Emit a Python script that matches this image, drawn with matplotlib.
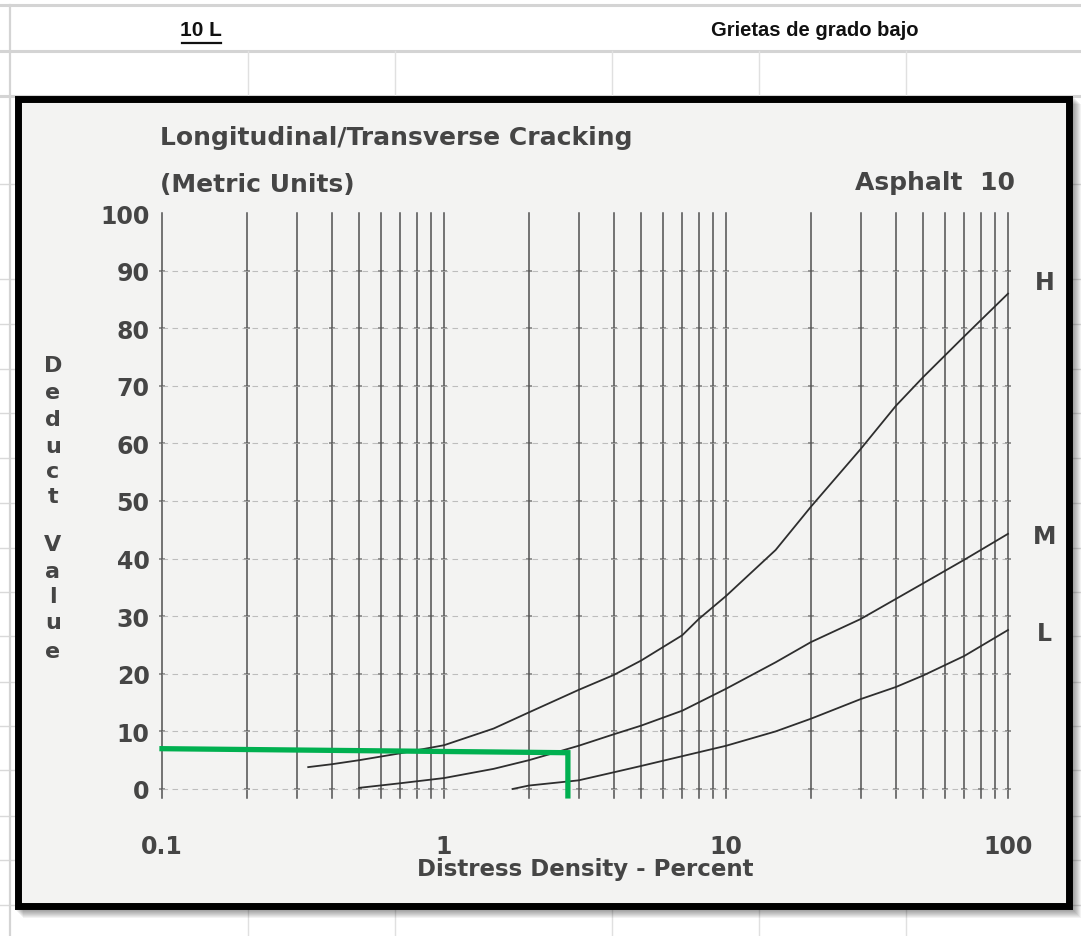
import matplotlib.pyplot as plt
from matplotlib.patches import Rectangle

# Deduct value curves (distress density %, deduct value)
h_density = [0.33, 0.4, 0.5, 0.7, 1, 1.5, 2, 3, 4, 5, 7, 8, 10, 15, 20, 30, 40, 50, 70, 100]
h_deduct = [3.8, 4.3, 5.0, 6.2, 7.6, 10.5, 13.3, 17.2, 19.8, 22.3, 26.7, 29.5, 33.5, 41.5, 49.0, 59.0, 66.5, 71.5, 78.6, 86.0]

m_density = [0.5, 0.7, 1, 1.5, 2, 3, 4, 5, 7, 10, 15, 20, 30, 50, 70, 100]
m_deduct = [0.2, 1.0, 1.9, 3.5, 5.0, 7.5, 9.5, 11.0, 13.6, 17.4, 22.0, 25.5, 29.5, 35.7, 39.8, 44.3]

l_density = [1.75, 2, 3, 4, 5, 7, 10, 15, 20, 30, 40, 50, 70, 100]
l_deduct = [0.0, 0.6, 1.5, 2.9, 4.0, 5.7, 7.5, 10.0, 12.2, 15.6, 17.7, 19.7, 23.1, 27.6]

curve_names = ['H', 'M', 'L']
curve_label_deduct = [88.0, 44.0, 27.0]

# reading line for the low-severity case
green_density = [0.1, 2.75, 2.75]
green_deduct = [7.0, 6.3, -1.2]

grid_density = [0.1, 0.2, 0.3, 0.4, 0.5, 0.6, 0.7, 0.8, 0.9, 1,
                2, 3, 4, 5, 6, 7, 8, 9, 10,
                20, 30, 40, 50, 60, 70, 80, 90, 100]
grid_deduct = [0, 10, 20, 30, 40, 50, 60, 70, 80, 90]

x_ticks = [0.1, 1, 10, 100]
x_tick_labels = ['0.1', '1', '10', '100']
y_ticks = [0, 10, 20, 30, 40, 50, 60, 70, 80, 90, 100]

W, H = 1081, 937
fig = plt.figure(figsize=(W / 100, H / 100), dpi=100)
fig.patch.set_facecolor('white')

# spreadsheet backdrop in pixel coordinates
bg = fig.add_axes([0, 0, 1, 1], zorder=0)
bg.set_xlim(0, W)
bg.set_ylim(H, 0)
bg.axis('off')

sheet_rows = [185, 280, 325, 370, 414, 459, 504, 549, 593, 637, 683, 727, 771, 817, 861, 906]
for y in sheet_rows:
    bg.plot([0, W], [y, y], color='#d9d9d9', lw=1.0, zorder=1)
for y in [6, 52, 97]:
    bg.plot([0, W], [y, y], color='#d4d4d4', lw=2.2, zorder=1)
bg.plot([10, 10], [6, H], color='#d4d4d4', lw=1.6, zorder=1)
for x in [248, 395, 612, 759, 906]:
    bg.plot([x, x], [52, 97], color='#e0e0e0', lw=1.0, zorder=1)
    bg.plot([x, x], [906, H], color='#e0e0e0', lw=1.0, zorder=1)

narrow = ['Liberation Sans Narrow', 'Liberation Sans', 'DejaVu Sans']
bg.text(201, 30, '10 L', family=narrow, weight='bold', fontsize=15,
        ha='center', va='center', color='#111111', zorder=5)
bg.plot([182, 221], [44, 44], color='#111111', lw=1.6, zorder=5)
bg.text(815, 30, 'Grietas de grado bajo', family=narrow, weight='bold',
        fontsize=14.5, ha='center', va='center', color='#111111', zorder=5)

# framed chart with a soft drop shadow
for k in range(1, 10):
    bg.add_patch(Rectangle((14 + k, 96 + k), 1058, 814, facecolor='black',
                           edgecolor='none', alpha=0.05, zorder=2))
bg.add_patch(Rectangle((17.5, 99.5), 1051, 807, facecolor='#f3f3f2',
                       edgecolor='black', lw=5.0, zorder=3))

# chart axes: 0.1..100 spans x 162..1008, deduct 0 at y 790, 100 at y 214
px_per_unit = (790 - 214) / 100
y_lo, y_hi = -2, 102
top_px = 214 - (y_hi - 100) * px_per_unit
bot_px = 790 + (0 - y_lo) * px_per_unit
ax = fig.add_axes([162 / W, (H - bot_px) / H, (1008 - 162) / W, (bot_px - top_px) / H],
                  zorder=2)
ax.patch.set_alpha(0)
ax.set_xscale('log')
ax.set_xlim(0.1, 100)
ax.set_ylim(y_lo, y_hi)
for s in ax.spines.values():
    s.set_visible(False)

ink = '#333333'
for gx in grid_density:
    ax.plot([gx, gx], [-1.5, 100], color=ink, lw=1.1, alpha=0.85, clip_on=False)
    ax.plot([gx] * len(grid_deduct), grid_deduct, ls='none', marker='_',
            ms=5, mew=1.2, color='#555555', alpha=0.7, clip_on=False)
for gy in grid_deduct:
    ax.plot([0.1, 100], [gy, gy], color='#b0b0b0', lw=0.8,
            dashes=(5, 4), alpha=0.8, clip_on=False)

for dens, ded in [(h_density, h_deduct), (m_density, m_deduct), (l_density, l_deduct)]:
    ax.plot(dens, ded, color='#2e2e2e', lw=1.3, clip_on=False)

ax.plot(green_density, green_deduct, color='#00b050', lw=3.8,
        solid_joinstyle='miter', clip_on=False, zorder=5)

label_font = dict(family='DejaVu Sans', weight='bold', color='#454545')
ax.set_xticks(x_ticks)
ax.set_xticklabels(x_tick_labels, fontsize=17, **label_font)
ax.xaxis.set_minor_locator(plt.NullLocator())
ax.set_yticks(y_ticks)
ax.set_yticklabels([str(v) for v in y_ticks], fontsize=17, **label_font)
ax.tick_params(axis='x', length=0, pad=24)
ax.tick_params(axis='y', length=0, pad=9)

for name, val in zip(curve_names, curve_label_deduct):
    ax.text(135, val, name, fontsize=17, ha='center', va='center',
            clip_on=False, **label_font)

bg.text(160, 138, 'Longitudinal/Transverse Cracking', fontsize=18,
        ha='left', va='center', zorder=5, **label_font)
bg.text(160, 185, '(Metric Units)', fontsize=18, ha='left', va='center',
        zorder=5, **label_font)
bg.text(1015, 183, 'Asphalt  10', fontsize=18, ha='right', va='center',
        zorder=5, **label_font)
bg.text(585, 870, 'Distress Density - Percent', fontsize=16.5,
        ha='center', va='center', zorder=5, **label_font)

y_letters = ['D', 'e', 'd', 'u', 'c', 't', 'V', 'a', 'l', 'u', 'e']
y_letter_px = [366, 393, 420, 447, 472, 497, 545, 572, 597, 623, 652]
for ch, yp in zip(y_letters, y_letter_px):
    bg.text(53, yp, ch, fontsize=16, ha='center', va='center', zorder=5, **label_font)

fig.savefig('out.png', dpi=100)
